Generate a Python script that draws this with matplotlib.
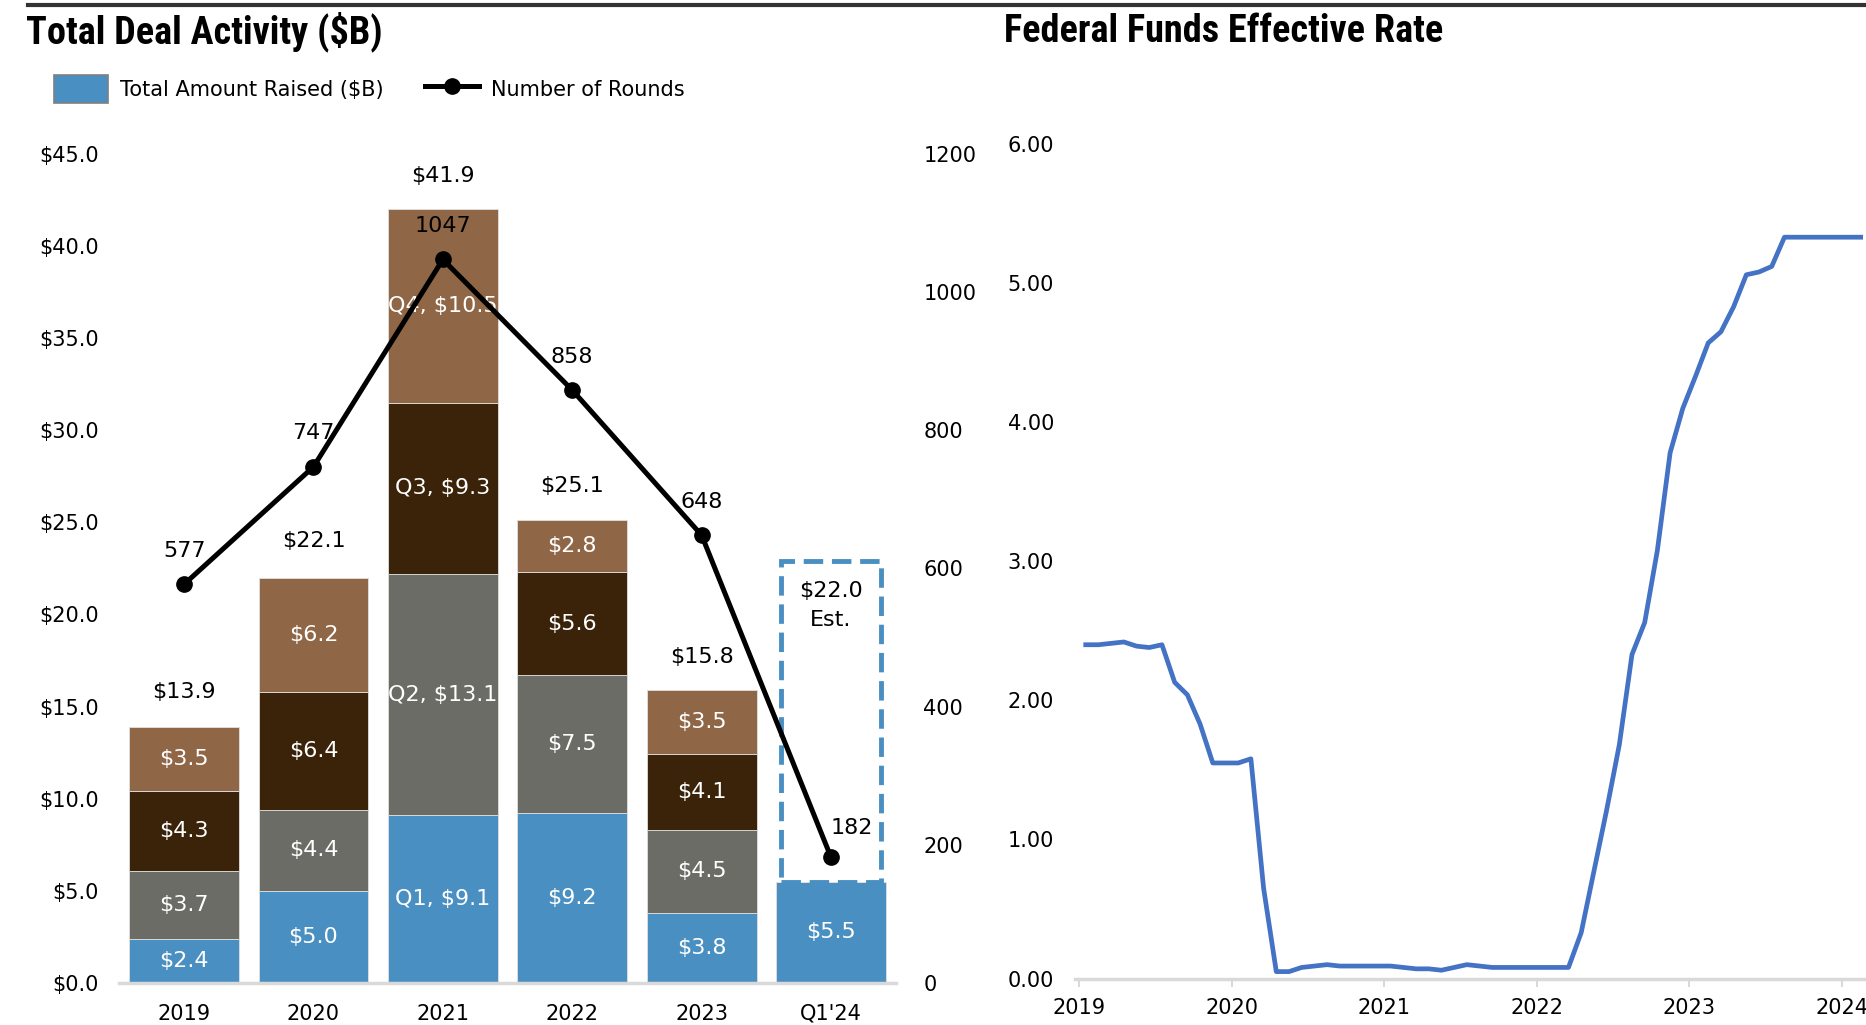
import matplotlib
matplotlib.use("Agg")
import matplotlib.pyplot as plt
from matplotlib import font_manager
from matplotlib.lines import Line2D
from matplotlib.patches import Patch, Rectangle
import numpy as np

# ---------------- data ----------------
categories = ["2019", "2020", "2021", "2022", "2023", "Q1'24"]
q1 = [2.4, 5.0, 9.1, 9.2, 3.8, 5.5]
q2 = [3.7, 4.4, 13.1, 7.5, 4.5, 0.0]
q3 = [4.3, 6.4, 9.3, 5.6, 4.1, 0.0]
q4 = [3.5, 6.2, 10.5, 2.8, 3.5, 0.0]
totals = [13.9, 22.1, 41.9, 25.1, 15.8, None]
rounds = [577, 747, 1047, 858, 648, 182]
estimate_total = 22.0
estimate_box_top = 22.9

q1_labels = ["$2.4", "$5.0", "Q1, $9.1", "$9.2", "$3.8", "$5.5"]
q2_labels = ["$3.7", "$4.4", "Q2, $13.1", "$7.5", "$4.5", ""]
q3_labels = ["$4.3", "$6.4", "Q3, $9.3", "$5.6", "$4.1", ""]
q4_labels = ["$3.5", "$6.2", "Q4, $10.5", "$2.8", "$3.5", ""]

left_yticks = [0, 5, 10, 15, 20, 25, 30, 35, 40, 45]
right_yticks = [0, 200, 400, 600, 800, 1000, 1200]

# Federal funds effective rate, monthly Jan 2019 - Feb 2024
fed_years = [2019] * 12 + [2020] * 12 + [2021] * 12 + [2022] * 12 + [2023] * 12 + [2024] * 2
fed_months = list(range(1, 13)) * 5 + [1, 2]
fed_rate = [2.40, 2.40, 2.41, 2.42, 2.39, 2.38, 2.40, 2.13, 2.04, 1.83, 1.55, 1.55,
            1.55, 1.58, 0.65, 0.05, 0.05, 0.08, 0.09, 0.10, 0.09, 0.09, 0.09, 0.09,
            0.09, 0.08, 0.07, 0.07, 0.06, 0.08, 0.10, 0.09, 0.08, 0.08, 0.08, 0.08,
            0.08, 0.08, 0.08, 0.33, 0.77, 1.21, 1.68, 2.33, 2.56, 3.08, 3.78, 4.10,
            4.33, 4.57, 4.65, 4.83, 5.06, 5.08, 5.12, 5.33, 5.33, 5.33, 5.33, 5.33,
            5.33, 5.33]
fed_xticks = [2019, 2020, 2021, 2022, 2023, 2024]
fed_yticks = [0, 1, 2, 3, 4, 5, 6]

# ---------------- style ----------------
_installed = {f.name for f in font_manager.fontManager.ttflist}


def pick(*names):
    for n in names:
        if n in _installed:
            return [n, "DejaVu Sans"]
    return ["DejaVu Sans"]


TITLEF = pick("Roboto Condensed", "Liberation Sans Narrow", "Lato", "Roboto")
NARROW = ["DejaVu Sans"]
LABELF = ["DejaVu Sans"]
C_Q1 = "#4a8fc1"
C_Q2 = "#6c6c66"
C_Q3 = "#3a2309"
C_Q4 = "#8f6646"
C_FED = "#4472c4"
AX_GRAY = "#d9d9d9"

fig = plt.figure(figsize=(18.66, 10.25), dpi=100)

# top rule
fig.add_artist(Line2D([0.015, 1.0], [0.995, 0.995], color="#333333", lw=3,
                      transform=fig.transFigure))

# titles
fig.text(0.014, 0.969, "Total Deal Activity ($B)", family=TITLEF, weight="bold",
         fontsize=27.5, va="center", ha="left")
fig.text(0.538, 0.969, "Federal Funds Effective Rate", family=TITLEF, weight="bold",
         fontsize=27.5, va="center", ha="left")

# ---------------- left chart ----------------
ax = fig.add_axes([0.064, 0.041, 0.416, 0.809])
x = np.arange(len(categories))
w = 0.85
b1 = ax.bar(x, q1, w, color=C_Q1, edgecolor="#e0e0e0", lw=0.6, zorder=2)
bot2 = np.array(q1)
b2 = ax.bar(x, q2, w, bottom=bot2, color=C_Q2, edgecolor="#e0e0e0", lw=0.6, zorder=2)
bot3 = bot2 + np.array(q2)
b3 = ax.bar(x, q3, w, bottom=bot3, color=C_Q3, edgecolor="#e0e0e0", lw=0.6, zorder=2)
bot4 = bot3 + np.array(q3)
b4 = ax.bar(x, q4, w, bottom=bot4, color=C_Q4, edgecolor="#e0e0e0", lw=0.6, zorder=2)

for bars, labels, bottoms, vals in [(b1, q1_labels, np.zeros(len(x)), q1),
                                    (b2, q2_labels, bot2, q2),
                                    (b3, q3_labels, bot3, q3),
                                    (b4, q4_labels, bot4, q4)]:
    for i, lab in enumerate(labels):
        if lab and vals[i] > 0:
            ax.text(x[i], bottoms[i] + vals[i] / 2, lab, ha="center", va="center",
                    color="white", fontsize=16, family=LABELF, zorder=5)

# totals
for i, t in enumerate(totals):
    if t is not None:
        ax.annotate(f"${t:.1f}", (x[i], t), xytext=(0, 25), textcoords="offset points",
                    ha="center", va="center", fontsize=16, family=LABELF)

# estimate dashed box
i_est = len(categories) - 1
bw = 0.78
rect = Rectangle((x[i_est] - bw / 2, q1[i_est]), bw, estimate_box_top - q1[i_est],
                 fill=False, edgecolor=C_Q1, lw=3.5, linestyle=(0, (4, 1.8)), zorder=3)
ax.add_patch(rect)
ax.annotate(f"${estimate_total:.1f}\nEst.", (x[i_est], estimate_total), xytext=(0, -20),
            textcoords="offset points", ha="center", va="center", fontsize=16,
            family=LABELF, linespacing=1.55)

ax.set_xlim(-0.5, 5.5)
ax.set_ylim(0, 45)
ax.set_yticks(left_yticks)
ax.set_yticklabels([f"${v:.1f}" for v in left_yticks])
ax.set_xticks(x)
ax.set_xticklabels(categories)
for s in ["top", "right", "left"]:
    ax.spines[s].set_visible(False)
ax.spines["bottom"].set_color(AX_GRAY)
ax.spines["bottom"].set_linewidth(2.5)
ax.tick_params(axis="y", length=0, pad=15, labelsize=15)
ax.tick_params(axis="x", length=0, pad=15, labelsize=15)

ax2 = ax.twinx()
ax2.plot(x, rounds, color="black", lw=3.6, marker="o", markersize=11, zorder=6)
ax2.set_ylim(0, 1200)
ax2.set_yticks(right_yticks)
for s in ["top", "right", "left", "bottom"]:
    ax2.spines[s].set_visible(False)
ax2.tick_params(axis="y", length=0, pad=20, labelsize=15)
for i, r in enumerate(rounds):
    dx = 15 if i == len(rounds) - 1 else 0
    dy = 21 if i == len(rounds) - 1 else 24
    ax2.annotate(f"{r}", (x[i], r), xytext=(dx, dy), textcoords="offset points",
                 ha="center", va="center", fontsize=16, family=LABELF, zorder=7)

# legend
handles = [Patch(facecolor=C_Q1, edgecolor="#7f7f7f", lw=1.2),
           Line2D([0], [0], color="black", lw=3.6, marker="o", markersize=11)]
leg = fig.legend(handles, ["Total Amount Raised ($B)", "Number of Rounds"],
                 loc="center left", bbox_to_anchor=(0.029, 0.913), ncol=2,
                 frameon=False, prop={"family": NARROW, "size": 15},
                 handlelength=2.6, handleheight=1.7, handletextpad=0.55,
                 columnspacing=2.0, borderaxespad=0, borderpad=0)

# ---------------- right chart ----------------
axr = fig.add_axes([0.576, 0.0453, 0.424, 0.8142])
fed_x = [yy + (mm - 0.5) / 12 for yy, mm in zip(fed_years, fed_months)]
axr.plot(fed_x, fed_rate, color=C_FED, lw=3.4, solid_joinstyle="round")
axr.set_xlim(2018.97, 2024.16)
axr.set_ylim(0, 6)
axr.set_yticks(fed_yticks)
axr.set_yticklabels([f"{v:.2f}" for v in fed_yticks])
axr.set_xticks(fed_xticks)
axr.set_xticklabels([str(v) for v in fed_xticks])
for s in ["top", "right", "left"]:
    axr.spines[s].set_visible(False)
axr.spines["bottom"].set_color(AX_GRAY)
axr.spines["bottom"].set_linewidth(2.5)
axr.tick_params(axis="y", length=0, pad=15, labelsize=15)
axr.tick_params(axis="x", length=6, width=1.5, color=AX_GRAY, pad=8, labelsize=15)

fig.savefig("out.png", dpi=100)
